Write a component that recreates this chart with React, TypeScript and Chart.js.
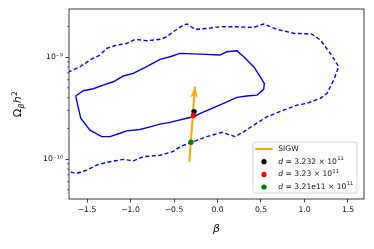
import React, { useEffect, useRef } from "react";
import { Chart, registerables } from "chart.js";
Chart.register(...registerables);

// Inner (solid) contour: beta and Omega_beta h^2
const innerBeta = [-1.630, -1.543, -1.428, -1.313, -1.198, -1.083, -0.968, -0.814, -0.661, -0.546, -0.431, -0.201, 0.029, 0.106, 0.224, 0.301, 0.416, 0.492, 0.538, 0.531, 0.454, 0.336, 0.224, 0.069, -0.063, -0.198, -0.274, -0.354, -0.546, -0.661, -0.776, -0.891, -1.044, -1.121, -1.236, -1.331, -1.466, -1.572, -1.630];
const innerOmega = [4.15e-10, 4.68e-10, 4.89e-10, 5.31e-10, 5.73e-10, 6.52e-10, 6.92e-10, 8.04e-10, 9.48e-10, 1.007e-9, 1.086e-9, 1.069e-9, 1.047e-9, 1.127e-9, 1.153e-9, 1.007e-9, 8.04e-10, 6.41e-10, 5.52e-10, 4.82e-10, 4.24e-10, 4.15e-10, 4.03e-10, 3.52e-10, 3.14e-10, 2.81e-10, 2.60e-10, 2.51e-10, 2.29e-10, 2.20e-10, 2.07e-10, 1.95e-10, 1.89e-10, 1.79e-10, 1.66e-10, 1.66e-10, 1.92e-10, 2.51e-10, 4.15e-10];

// Outer (dashed) contour
const outerBeta = [-1.72, -1.580, -1.466, -1.351, -1.274, -1.159, -1.044, -0.948, -0.814, -0.661, -0.584, -0.508, -0.393, -0.351, -0.255, -0.121, 0.032, 0.224, 0.416, 0.531, 0.684, 0.876, 1.086, 1.182, 1.297, 1.393, 1.336, 1.259, 1.182, 1.029, 0.914, 0.761, 0.569, 0.416, 0.301, 0.205, 0.052, -0.121, -0.299, -0.431, -0.508, -0.661, -0.853, -0.968, -1.083, -1.274, -1.389, -1.503, -1.618, -1.72];
const outerOmega = [7.1e-10, 8.04e-10, 9.35e-10, 1.047e-9, 1.216e-9, 1.312e-9, 1.361e-9, 1.493e-9, 1.445e-9, 1.493e-9, 1.582e-9, 1.77e-9, 2.06e-9, 2.11e-9, 1.87e-9, 1.91e-9, 1.98e-9, 1.98e-9, 1.95e-9, 2.11e-9, 1.87e-9, 1.71e-9, 1.68e-9, 1.47e-9, 1.086e-9, 8.04e-10, 5.96e-10, 4.41e-10, 3.94e-10, 3.52e-10, 3.38e-10, 3.02e-10, 2.60e-10, 2.15e-10, 1.85e-10, 1.66e-10, 1.83e-10, 1.66e-10, 1.46e-10, 1.32e-10, 1.19e-10, 1.09e-10, 1.054e-10, 9.62e-11, 9.93e-11, 9.29e-11, 8.73e-11, 7.80e-11, 7.24e-11, 7.55e-11];

// SIGW arrow (start, tip)
const sigwBeta = [-0.324, -0.259];
const sigwOmega = [9.42e-11, 5.12e-10];

// Points
const pointBeta = [-0.270, -0.276, -0.305];
const pointOmega = [2.92e-10, 2.67e-10, 1.46e-10];
const pointColors = ["#000000", "#ff0000", "#007f00"];
const dMantissas = ["3.232", "3.23", "3.21e11"];
const dExponent = "11";
const sigwLabel = "SIGW";

const xTicks = [-1.5, -1.0, -0.5, 0.0, 0.5, 1.0, 1.5];
const yMajorTicks = [1e-10, 1e-9];
const xRange = [-1.707, 1.684];
const yRange = [4.06e-11, 2.96e-9];

const FONT = '"DejaVu Sans"';
const SUP = "⁻⁰¹²³⁴⁵⁶⁷⁸⁹";
const toSup = (s: string) => s.replace(/[-0-9]/g, (c) => SUP["-0123456789".indexOf(c)]);

const zip = (xs: number[], ys: number[]) => xs.map((x, i) => ({ x, y: ys[i] }));

const customPlugin = {
  id: "custom",
  afterDatasetsDraw(chart: any) {
    const ctx = chart.ctx;
    const meta = chart.getDatasetMeta(2);
    const pts = meta.data;
    if (pts.length < 2) return;
    const p1 = pts[pts.length - 2], p2 = pts[pts.length - 1];
    const dx = p2.x - p1.x, dy = p2.y - p1.y;
    const len = Math.hypot(dx, dy);
    const ux = dx / len, uy = dy / len;
    const nx = -uy, ny = ux;
    const hl = 11, hw = 3.8;
    ctx.save();
    ctx.fillStyle = "#ffa500";
    ctx.beginPath();
    ctx.moveTo(p2.x, p2.y);
    ctx.lineTo(p2.x - ux * hl + nx * hw, p2.y - uy * hl + ny * hw);
    ctx.lineTo(p2.x - ux * (hl - 3), p2.y - uy * (hl - 3));
    ctx.lineTo(p2.x - ux * hl - nx * hw, p2.y - uy * hl - ny * hw);
    ctx.closePath();
    ctx.fill();
    ctx.restore();
  },
  afterDraw(chart: any) {
    const { ctx, chartArea: a, scales } = chart;
    const ys = scales.y;
    ctx.save();
    // frame
    ctx.strokeStyle = "#111";
    ctx.lineWidth = 0.8;
    ctx.strokeRect(a.left, a.top, a.right - a.left, a.bottom - a.top);
    // minor log ticks
    ctx.lineWidth = 0.6;
    for (let n = -12; n <= -7; n++) {
      for (let k = 2; k <= 9; k++) {
        const v = k * Math.pow(10, n);
        if (v > ys.min && v < ys.max) {
          const y = ys.getPixelForValue(v);
          ctx.beginPath();
          ctx.moveTo(a.left - 2, y);
          ctx.lineTo(a.left, y);
          ctx.stroke();
        }
      }
    }
    // legend
    const bw = 104, bh = 51;
    const bx = a.right - 7 - bw, by = a.bottom - 6 - bh;
    ctx.beginPath();
    ctx.roundRect(bx, by, bw, bh, 2);
    ctx.fillStyle = "rgba(255,255,255,0.85)";
    ctx.fill();
    ctx.strokeStyle = "#cccccc";
    ctx.lineWidth = 0.8;
    ctx.stroke();
    const fs = 7.6;
    const rowY = (i: number) => by + 7 + i * 12.7;
    ctx.strokeStyle = "#ffa500";
    ctx.lineWidth = 2;
    ctx.beginPath();
    ctx.moveTo(bx + 2.3, rowY(0));
    ctx.lineTo(bx + 19.7, rowY(0));
    ctx.stroke();
    ctx.fillStyle = "#111";
    ctx.textBaseline = "middle";
    ctx.textAlign = "left";
    ctx.font = `${fs}px ${FONT}`;
    ctx.fillText(sigwLabel, bx + 25.3, rowY(0));
    dMantissas.forEach((m, i) => {
      const y = rowY(i + 1);
      ctx.fillStyle = pointColors[i];
      ctx.beginPath();
      ctx.arc(bx + 11, y, 2.6, 0, Math.PI * 2);
      ctx.fill();
      ctx.fillStyle = "#111";
      let x = bx + 25.3;
      ctx.font = `italic ${fs}px ${FONT}`;
      ctx.fillText("d", x, y);
      x += ctx.measureText("d").width;
      ctx.font = `${fs}px ${FONT}`;
      const body = ` = ${m} × 10`;
      ctx.fillText(body, x, y);
      x += ctx.measureText(body).width;
      ctx.font = `${fs * 0.7}px ${FONT}`;
      ctx.fillText(dExponent, x + 0.3, y - 3);
    });
    // x title
    ctx.fillStyle = "#111";
    ctx.font = `italic 11px ${FONT}`;
    ctx.textAlign = "center";
    ctx.textBaseline = "alphabetic";
    ctx.fillText("β", (a.left + a.right) / 2, 232);
    // y title: Ω_β h^2
    const big = 11, small = 7.7;
    ctx.textAlign = "left";
    const parts = [
      { t: "Ω", f: `${big}px ${FONT}`, dy: 0 },
      { t: "β", f: `italic ${small}px ${FONT}`, dy: 2.5 },
      { t: "h", f: `italic ${big}px ${FONT}`, dy: 0 },
      { t: "2", f: `${small}px ${FONT}`, dy: -4.5 },
    ];
    let total = 0;
    parts.forEach((p) => { ctx.font = p.f; total += ctx.measureText(p.t).width + 0.3; });
    ctx.translate(21, (a.top + a.bottom) / 2 + total / 2);
    ctx.rotate(-Math.PI / 2);
    let px = 0;
    parts.forEach((p) => {
      ctx.font = p.f;
      ctx.fillText(p.t, px, p.dy);
      px += ctx.measureText(p.t).width + 0.3;
    });
    ctx.restore();
  },
};

export default function App() {
  const ref = useRef<HTMLCanvasElement>(null);
  useEffect(() => {
    const chart = new Chart(ref.current!, {
      type: "scatter",
      data: {
        datasets: [
          { data: zip(innerBeta, innerOmega), order: 6, showLine: true, borderColor: "#0000ff", borderWidth: 1.4, pointRadius: 0, tension: 0, fill: false },
          { data: zip(outerBeta, outerOmega), order: 5, showLine: true, borderColor: "#0000ff", borderWidth: 1.4, borderDash: [4, 2.5], pointRadius: 0, tension: 0, fill: false },
          { label: sigwLabel, data: zip(sigwBeta, sigwOmega), order: 4, showLine: true, borderColor: "#ffa500", borderWidth: 2, pointRadius: 0, fill: false },
          ...pointBeta.map((b, i) => ({
            label: `d = ${dMantissas[i]} × 10^${dExponent}`,
            data: [{ x: b, y: pointOmega[i] }],
            order: 3 - i,
            pointRadius: 2.7,
            pointBorderWidth: 0,
            backgroundColor: pointColors[i],
            borderColor: pointColors[i],
          })),
        ],
      } as any,
      options: {
        animation: false,
        responsive: false,
        devicePixelRatio: 1,
        events: [],
        layout: { padding: { top: 9, right: 10, left: 0, bottom: 0 } },
        plugins: { legend: { display: false }, tooltip: { enabled: false } },
        scales: {
          x: {
            type: "linear",
            min: xRange[0],
            max: xRange[1],
            afterBuildTicks: (s: any) => { s.ticks = xTicks.map((v) => ({ value: v })); },
            afterFit: (s: any) => { s.height = 50; },
            border: { display: false },
            grid: { drawOnChartArea: false, drawTicks: true, tickLength: 3.5, tickColor: "#111", tickWidth: 0.8 },
            ticks: {
              autoSkip: false, maxRotation: 0, minRotation: 0, padding: 2.5, color: "#111",
              font: { family: "DejaVu Sans", size: 7.7 },
              callback: (v: any) => Number(v).toFixed(1).replace("-", "−"),
            },
          },
          y: {
            type: "logarithmic",
            min: yRange[0],
            max: yRange[1],
            afterBuildTicks: (s: any) => { s.ticks = yMajorTicks.map((v) => ({ value: v })); },
            afterFit: (s: any) => { s.width = 69; },
            border: { display: false },
            grid: { drawOnChartArea: false, drawTicks: true, tickLength: 3.5, tickColor: "#111", tickWidth: 0.8 },
            ticks: {
              autoSkip: false, padding: 2.5, color: "#111",
              font: { family: "DejaVu Sans", size: 7.7 },
              callback: (v: any) => "10" + toSup(String(Math.round(Math.log10(Number(v))))),
            },
          },
        },
      } as any,
      plugins: [customPlugin],
    });
    return () => chart.destroy();
  }, []);
  return (
    <canvas
      ref={ref}
      width={374}
      height={249}
      style={{ position: "absolute", left: 0, top: 0, width: 374, height: 249 }}
    />
  );
}
